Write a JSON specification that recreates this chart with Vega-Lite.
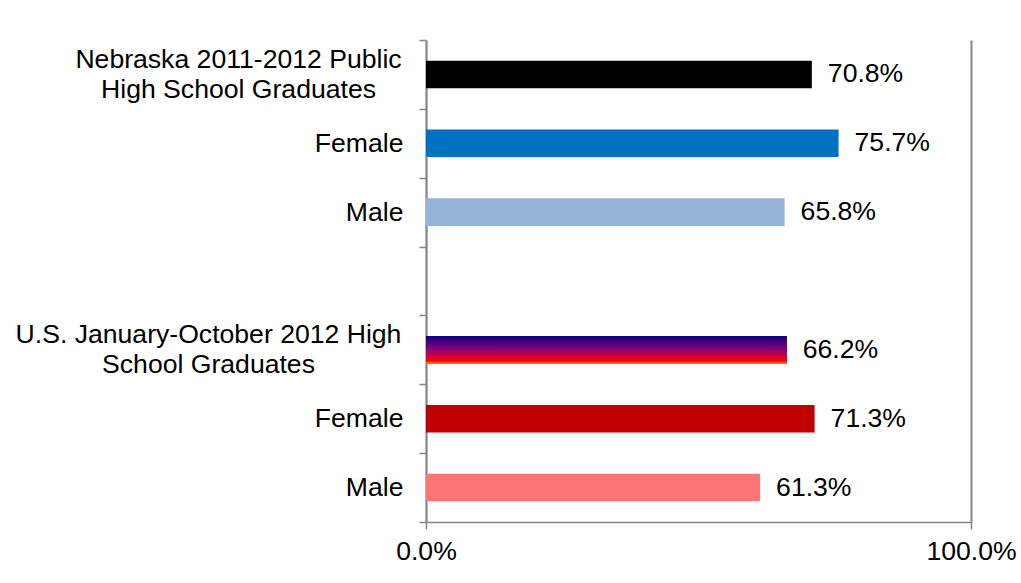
{
  "$schema": "https://vega.github.io/schema/vega-lite/v6.json",
  "width": 545,
  "height": 482,
  "autosize": {"type": "none"},
  "padding": {"left": 426, "top": 40, "right": 50, "bottom": 61},
  "background": "white",
  "config": {
    "font": "Liberation Sans",
    "view": {"stroke": null}
  },
  "data": {
    "values": [
      {"cat": "ne", "value": 0.708},
      {"cat": "ne_f", "value": 0.757},
      {"cat": "ne_m", "value": 0.658},
      {"cat": "us", "value": 0.662},
      {"cat": "us_f", "value": 0.713},
      {"cat": "us_m", "value": 0.613}
    ]
  },
  "encoding": {
    "y": {
      "field": "cat",
      "type": "nominal",
      "scale": {
        "domain": ["ne", "ne_f", "ne_m", "gap", "us", "us_f", "us_m"],
        "paddingInner": 0,
        "paddingOuter": 0
      },
      "axis": {
        "title": null,
        "tickBand": "extent",
        "tickSize": 7,
        "tickColor": "#868686",
        "tickWidth": 1.5,
        "domainColor": "#868686",
        "domainWidth": 1.5,
        "labelFontSize": 26.6,
        "labelColor": "black",
        "labelLineHeight": 30,
        "labelLimit": 500,
        "labelAlign": {"condition": {"test": "datum.value == 'ne' || datum.value == 'us'", "value": "center"}, "value": "right"},
        "labelPadding": {"condition": [{"test": "datum.value == 'ne'", "value": 181}, {"test": "datum.value == 'us'", "value": 211}], "value": 16},
        "labelOffset": {"condition": {"test": "datum.value == 'ne' || datum.value == 'us'", "value": -15}, "value": 0},
        "labelExpr": "datum.value == 'ne' ? ['Nebraska 2011-2012 Public', 'High School Graduates'] : datum.value == 'us' ? ['U.S. January-October 2012 High', 'School Graduates'] : (datum.value == 'ne_f' || datum.value == 'us_f') ? 'Female' : (datum.value == 'ne_m' || datum.value == 'us_m') ? 'Male' : ''"
      }
    },
    "x": {
      "field": "value",
      "type": "quantitative",
      "scale": {"domain": [0, 1], "nice": false},
      "axis": {
        "title": null,
        "values": [0, 1],
        "format": ".1%",
        "tickSize": 7,
        "tickColor": "#868686",
        "tickWidth": 1.5,
        "domainColor": "#868686",
        "domainWidth": 1.5,
        "grid": true,
        "gridColor": "#868686",
        "gridWidth": 2,
        "labelFontSize": 26.6,
        "labelColor": "black",
        "labelPadding": 9,
        "labelFlush": false
      }
    }
  },
  "layer": [
    {
      "mark": {"type": "bar", "height": {"band": 0.4}},
      "encoding": {
        "color": {
          "field": "cat",
          "type": "nominal",
          "legend": null,
          "scale": {
            "domain": ["ne", "ne_f", "ne_m", "us", "us_f", "us_m"],
            "range": ["#000000", "#0070C0", "#95B3D7", "#1A0080", "#C00000", "#FF7575"]
          }
        }
      }
    },
    {
      "transform": [{"filter": "datum.cat == 'us'"}],
      "mark": {
        "type": "bar",
        "height": {"band": 0.4},
        "color": {
          "gradient": "linear",
          "x1": 0, "y1": 0, "x2": 0, "y2": 1,
          "stops": [
            {"offset": 0, "color": "#0A0082"},
            {"offset": 0.45, "color": "#85007A"},
            {"offset": 0.8, "color": "#E0002A"},
            {"offset": 0.9, "color": "#FF0000"},
            {"offset": 1, "color": "#FF9900"}
          ]
        }
      }
    },
    {
      "mark": {"type": "text", "align": "left", "baseline": "middle", "dx": 16, "fontSize": 26.6, "color": "black"},
      "encoding": {
        "text": {"field": "value", "type": "quantitative", "format": ".1%"}
      }
    }
  ]
}
